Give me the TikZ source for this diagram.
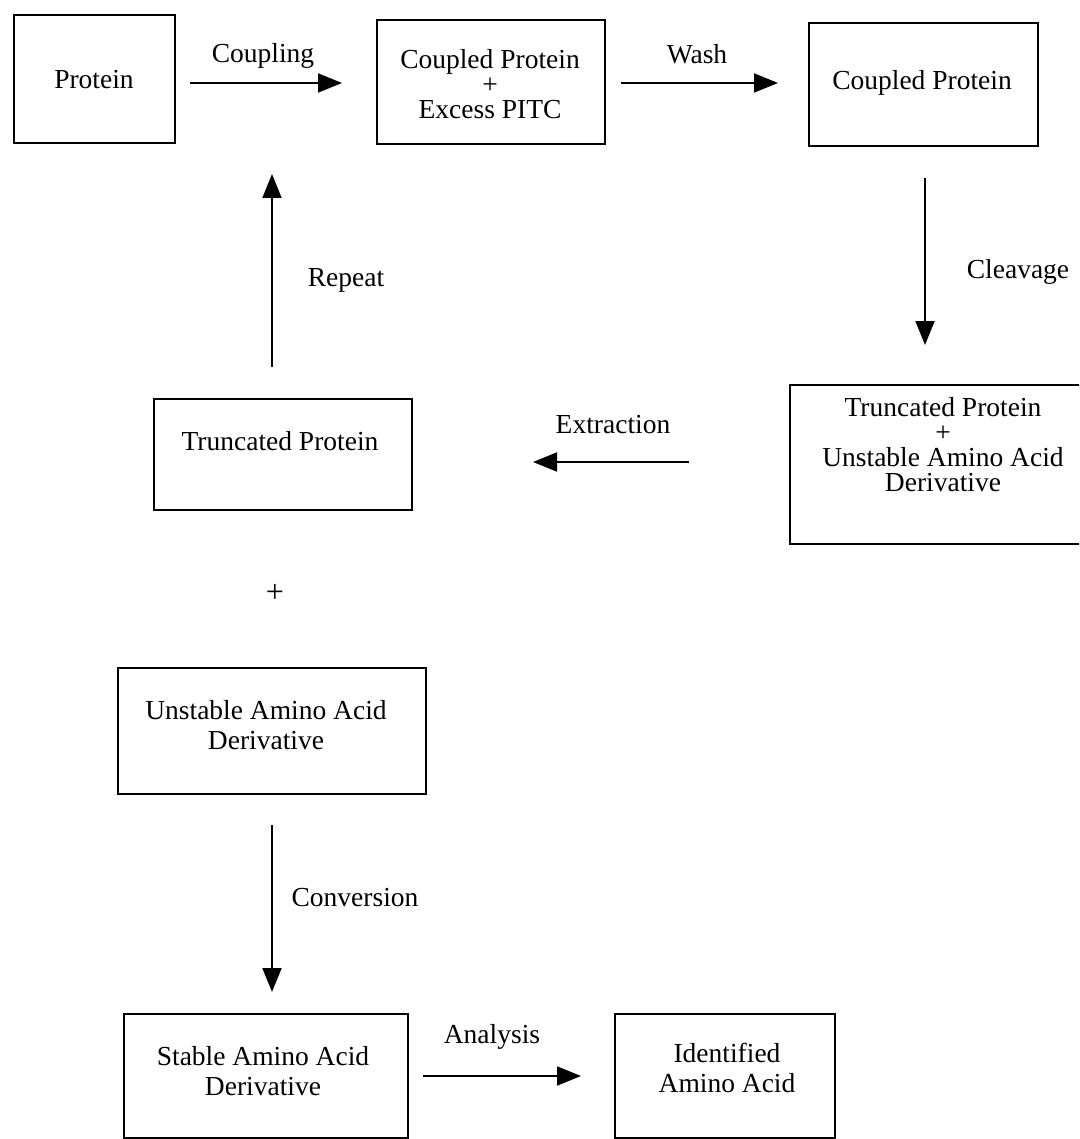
\documentclass[tikz,border=0pt]{standalone}
\usepackage{fontspec}
\setmainfont{Liberation Serif}
\usetikzlibrary{arrows.meta}
\begin{document}
\begin{tikzpicture}[x=1pt,y=-1pt,
  box/.style={draw, line width=1.9pt, inner sep=0pt, anchor=north west},
  txt/.style={font=\fontsize{27.5}{25}\selectfont, align=center, inner sep=0pt},
  txtw/.style={font=\fontsize{27.5}{30}\selectfont, align=center, inner sep=0pt},
  arr/.style={line width=1.9pt, -{Triangle[length=24pt,width=19pt]}}]
\useasboundingbox (0,0) rectangle (1079,1139);
\clip (0,0) rectangle (1079,1139);
\fill[white] (0,0) rectangle (1079,1139);

% boxes
\node[box, minimum width=161pt, minimum height=128pt] (protein) at (13,14) {};
\node[box, minimum width=228pt, minimum height=124pt] (coupledx) at (376,19) {};
\node[box, minimum width=229pt, minimum height=123pt] (coupled) at (808,22) {};
\node[box, minimum width=306pt, minimum height=159pt] (truncun) at (789,384) {};
\node[box, minimum width=258pt, minimum height=111pt] (trunc) at (153,398) {};
\node[box, minimum width=308pt, minimum height=126pt] (unstable) at (117,667) {};
\node[box, minimum width=284pt, minimum height=124pt] (stable) at (123,1013) {};
\node[box, minimum width=220pt, minimum height=124pt] (ident) at (614,1013) {};

% box texts
\node[txt] (protein-t) at (94,80) {Protein};
\node[txt] (coupledx-t) at (490,84) {Coupled Protein\\+\\Excess PITC};
\node[txt] (coupled-t) at (922,83) {Coupled Protein};
\node[txt] (truncun-t) at (943,445) {Truncated Protein\\+\\Unstable Amino Acid\\Derivative};
\node[txt] (trunc-t) at (280,441) {Truncated Protein};
\node[font=\fontsize{32}{32}\selectfont, inner sep=0pt] (plus) at (275,593) {+};
\node[txtw] (unstable-t) at (266,725) {Unstable Amino Acid\\Derivative};
\node[txtw] (stable-t) at (263,1071) {Stable Amino Acid\\Derivative};
\node[txtw] (ident-t) at (727,1068) {Identified\\Amino Acid};

% arrow end points
\coordinate (c1s) at (190,83);   \coordinate (c1e) at (342,83);
\coordinate (c2s) at (621,83);   \coordinate (c2e) at (778,83);
\coordinate (c3s) at (925,178);  \coordinate (c3e) at (925,345);
\coordinate (c4s) at (689,462);  \coordinate (c4e) at (533,462);
\coordinate (c5s) at (272,367);  \coordinate (c5e) at (272,174);
\coordinate (c6s) at (272,825);  \coordinate (c6e) at (272,992);
\coordinate (c7s) at (423,1076); \coordinate (c7e) at (581,1076);

\draw[arr] (c1s) -- (c1e);
\draw[arr] (c2s) -- (c2e);
\draw[arr] (c3s) -- (c3e);
\draw[arr] (c4s) -- (c4e);
\draw[arr] (c5s) -- (c5e);
\draw[arr] (c6s) -- (c6e);
\draw[arr] (c7s) -- (c7e);

% arrow labels
\node[txt] (l-coupling) at (263,56) {Coupling};
\node[txt] (l-wash) at (697,54) {Wash};
\node[txt] (l-cleavage) at (1018,272) {Cleavage};
\node[txt] (l-extraction) at (613,425) {Extraction};
\node[txt] (l-repeat) at (346,280) {Repeat};
\node[txt] (l-conversion) at (355,898) {Conversion};
\node[txt] (l-analysis) at (492,1037) {Analysis};
\end{tikzpicture}
\end{document}
